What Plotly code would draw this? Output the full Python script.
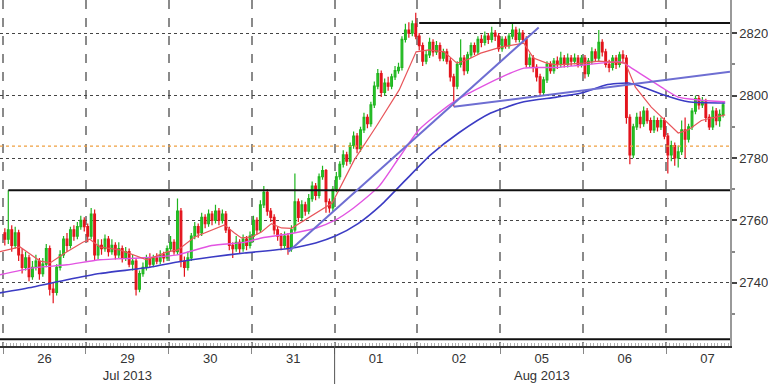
import plotly.graph_objects as go

# ---------------- data (hourly candles, 24 per trading day) ----------------
first_open = 2756.0
closes = [
    2754, 2757, 2752, 2756, 2749, 2745, 2748, 2742, 2745, 2747, 2743, 2746,
    2751, 2738, 2737, 2745, 2749, 2754, 2752, 2757, 2755, 2758, 2760, 2758,
    2755, 2762, 2749, 2752, 2751, 2754, 2750, 2752, 2749, 2751, 2748, 2750,
    2746, 2747, 2738, 2743, 2745, 2748, 2746, 2748, 2747, 2749, 2748, 2751,
    2753, 2750, 2763, 2747, 2745, 2748, 2755, 2758, 2756, 2761, 2759, 2762,
    2760, 2763, 2760, 2762, 2757, 2752, 2751, 2753, 2751, 2754, 2752, 2755,
    2760, 2757, 2765, 2769, 2763, 2761, 2757, 2755, 2752, 2755, 2751, 2757,
    2766, 2761, 2765, 2763, 2767, 2771, 2768, 2774, 2776, 2766, 2764, 2770,
    2774, 2778, 2781, 2779, 2784, 2787, 2783, 2789, 2793, 2791, 2797, 2803,
    2807, 2801, 2804, 2803, 2806, 2808, 2809, 2818, 2821, 2820, 2823, 2819,
    2816, 2811, 2813, 2817, 2814, 2816, 2812, 2814, 2811, 2806, 2803, 2810,
    2812, 2808, 2813, 2816, 2814, 2818, 2817, 2819, 2818, 2820, 2819, 2815,
    2818, 2816, 2819, 2821, 2818, 2820, 2818, 2810, 2812, 2809, 2806, 2801,
    2805, 2810, 2808, 2811, 2810, 2812, 2810, 2812, 2811, 2812, 2810, 2812,
    2807, 2811, 2814, 2812, 2817, 2814, 2810, 2809, 2812, 2810, 2813, 2812,
    2793, 2781, 2790, 2793, 2791, 2795, 2792, 2789, 2792, 2790, 2792, 2787,
    2781, 2784, 2780, 2782, 2789, 2786, 2790, 2795, 2799, 2797, 2798, 2793,
    2790, 2795, 2792, 2794, 2797,
]
highs = [
    2757.5, 2769.7, 2758.5, 2758, 2757, 2751, 2750, 2749, 2747, 2749, 2748, 2748,
    2752.5, 2752, 2740, 2746, 2750.5, 2755, 2756, 2758, 2758.5, 2759.5, 2761.5, 2761,
    2759, 2764, 2763.5, 2754, 2754, 2755.5, 2755, 2754, 2753, 2753, 2752, 2751.5,
    2751, 2749, 2748, 2744, 2746.5, 2749, 2749.5, 2749, 2749.5, 2750.5, 2750, 2752,
    2755, 2754, 2767, 2764, 2748.5, 2750, 2756, 2759.5, 2759, 2762.5, 2762, 2763.5,
    2763, 2765, 2764, 2763.5, 2763, 2758, 2753, 2755, 2754, 2755.5, 2755, 2756.5,
    2761.5, 2761, 2766.5, 2771, 2770, 2764, 2762, 2758, 2756, 2756.5, 2756, 2758.5,
    2775, 2767, 2766.5, 2766, 2768.5, 2772.5, 2772, 2775, 2777.5, 2776.5, 2767, 2771,
    2775.5, 2779, 2782.5, 2782, 2785, 2788.5, 2788, 2790, 2794.5, 2794, 2798, 2804.5,
    2808.5, 2808, 2805.5, 2806, 2807, 2809.5, 2810.5, 2819, 2823, 2823.5, 2824, 2826.5,
    2820, 2817, 2814.5, 2818.5, 2818, 2817.5, 2817, 2815, 2815, 2812, 2807, 2811,
    2818, 2813, 2814, 2817, 2817, 2819, 2819.5, 2820.5, 2820, 2822, 2821, 2820,
    2819, 2819, 2820, 2823, 2822, 2821.5, 2821, 2819, 2813.5, 2813, 2810, 2807,
    2806, 2811, 2811, 2812, 2812.5, 2814, 2813, 2813.5, 2813, 2813.5, 2813, 2813,
    2813, 2812, 2815.5, 2815, 2821, 2818, 2815, 2811.5, 2813, 2813, 2814, 2814.5,
    2813, 2794, 2791, 2794.5, 2795, 2796.5, 2796, 2793, 2793.5, 2793, 2793, 2793,
    2788, 2785.5, 2785, 2784, 2792, 2793, 2791, 2796, 2800, 2800, 2799.5, 2799,
    2794, 2796.5, 2796, 2795.5, 2798,
]
lows = [
    2752, 2752.5, 2750, 2751, 2747, 2743, 2744, 2740.5, 2741, 2744, 2741, 2742,
    2745, 2736, 2733.5, 2736, 2744, 2748, 2750, 2751, 2753.5, 2754, 2757, 2756.5,
    2753, 2754, 2747, 2747.5, 2749, 2750, 2748.5, 2749, 2747.5, 2748, 2746.5, 2747,
    2745, 2744, 2736, 2737, 2742, 2744, 2745, 2745, 2746, 2746, 2746.5, 2747,
    2750, 2749, 2749, 2745, 2742, 2744, 2747, 2754, 2754.5, 2755, 2757.5, 2758,
    2758.5, 2759, 2758.5, 2759, 2756, 2750.5, 2748, 2750, 2749.5, 2750, 2750.5, 2751,
    2753, 2755.5, 2756, 2764, 2761.5, 2759.5, 2755.5, 2753.5, 2750.5, 2751, 2749, 2750,
    2756, 2759.5, 2760, 2761.5, 2762, 2766, 2766.5, 2767, 2773, 2762.5, 2762.5, 2763,
    2769, 2773, 2777, 2777.5, 2778, 2783, 2781.5, 2782, 2788, 2789.5, 2790, 2796,
    2802, 2799.5, 2800, 2801.5, 2802, 2805, 2807, 2808, 2817, 2818.5, 2819, 2818,
    2814.5, 2809.5, 2810, 2812, 2812.5, 2813, 2811, 2811, 2810, 2804.5, 2796.5, 2802,
    2809, 2806.5, 2807, 2812, 2813, 2813, 2815.5, 2816, 2816.5, 2817, 2817.5, 2814,
    2814, 2815, 2815, 2818, 2817, 2817, 2817, 2809, 2809, 2807.5, 2804.5, 2800,
    2800, 2804, 2807, 2807, 2808.5, 2809, 2809, 2809, 2809.5, 2810, 2809, 2809,
    2805.5, 2806, 2810, 2811, 2811, 2812.5, 2809, 2807.5, 2808, 2808.5, 2809, 2810.5,
    2791, 2778, 2780, 2789, 2789.5, 2790, 2791, 2788, 2788, 2788.5, 2789, 2786,
    2775, 2779, 2777.5, 2777, 2781, 2780, 2785, 2789, 2794, 2795.5, 2796, 2791.5,
    2789, 2789, 2790.5, 2790, 2793,
]
opens = [first_open] + closes[:-1]
hours = list(range(len(closes)))

# day labels (24 hourly bars per day)
day_labels = ["26", "29<br>Jul 2013", "30", "31", "01", "02", "05<br>Aug 2013", "06", "07"]
bars_per_day = 24
month_break_day = 4  # first day of August in day_labels

# price axis labels
price_ticks = [2740, 2760, 2780, 2800, 2820]
price_minor_ticks = [2730, 2750, 2770, 2790, 2810]

# moving averages (x in bar index units)
ma_fast_x = [-1.4, 4.4, 10.2, 13.1, 18, 22.6, 24.6, 27.5, 33.3, 37, 41.1, 47.2, 50, 55, 59.9,
             63.6, 66.5, 68.5, 71.4, 74.3, 77.2, 80.1, 83, 88.2, 94.8, 101.2, 107.5, 114.2,
             118, 119.1, 122.8, 127.2, 130.9, 133.8, 137.8, 143.6, 150.3, 153.1, 156.9,
             159.8, 167.6, 172, 179.7, 182.6, 187.2, 191.3, 195, 197.9, 201.7, 204.6, 208.6]
ma_fast_y = [2750, 2751.5, 2747, 2746.4, 2750, 2753, 2754, 2751.5, 2750.6, 2749, 2747.4, 2750,
             2750.5, 2754.7, 2757, 2758.6, 2756, 2754.4, 2754.7, 2756.3, 2759, 2757.6, 2757.5,
             2761, 2765.6, 2779.4, 2790, 2801.8, 2811, 2814, 2814.6, 2814, 2810.4, 2811.4,
             2813.6, 2815.5, 2816.8, 2812, 2810.4, 2809.8, 2810.4, 2811, 2810.4, 2802.7,
             2796.3, 2792, 2788, 2789, 2792, 2792.8, 2793.8]
ma_mid_x = [-1.4, 8.2, 18, 27.5, 39.1, 50, 59.9, 69.4, 74.3, 83.8, 90, 95.5, 101, 108.4, 114.1,
            119.9, 130, 143, 150.3, 159.8, 167.6, 178.6, 181.5, 190.1, 195, 200.8, 208.6]
ma_mid_y = [2742.6, 2744.8, 2745.8, 2747.4, 2748, 2749, 2752, 2753, 2754.4, 2756, 2757.5, 2760,
            2764, 2771, 2780, 2789, 2798, 2805.5, 2808.8, 2809, 2809.8, 2810.7, 2808.8, 2802.7,
            2799.5, 2798.6, 2798]
ma_slow_x = [-1.4, 8.2, 18, 27.5, 42, 50, 59.9, 69.4, 82.1, 90, 95.7, 102.3, 109, 116.1, 123.3,
             131.4, 140.7, 150.3, 159.8, 167.6, 174, 180.6, 185.5, 191.3, 197.9, 208.6]
ma_slow_y = [2736.8, 2738.7, 2741, 2743, 2745, 2746.7, 2748.3, 2749.6, 2751, 2752.8, 2755,
             2759, 2765, 2773, 2781, 2788, 2794.4, 2798, 2799.5, 2801, 2803.4, 2804, 2802.4,
             2800, 2798, 2797.6]

# drawn trend lines and levels
trend_a_x = [82.1, 154.6]
trend_a_y = [2750.0, 2821.8]
trend_b_x = [130.0, 210.0]
trend_b_y = [2796.4, 2807.6]
level_top = 2823.2
level_top_start = 120
level_mid = 2769.7
level_mid_start = 1
level_low = 2722.0
level_orange = 2783.8

x_range = [-1.4, 210.0]
y_range = [2719.8, 2830.6]

# ---------------- figure ----------------
day_starts = [k * bars_per_day - 0.5 for k in range(len(day_labels))]
day_centers = [k * bars_per_day + (bars_per_day - 1) / 2 for k in range(len(day_labels))]
month_break = day_starts[month_break_day]

fig = go.Figure()

fig.add_trace(go.Candlestick(
    x=hours, open=opens, high=highs, low=lows, close=closes,
    increasing=dict(line=dict(color="#1fb51f", width=1.2), fillcolor="#2fcc2f"),
    decreasing=dict(line=dict(color="#e3141c", width=1.2), fillcolor="#e3141c"),
    whiskerwidth=0, hoverinfo="skip",
))

fig.add_trace(go.Scatter(x=ma_slow_x, y=ma_slow_y, mode="lines", line_shape="spline",
                         line=dict(color="#3b3bc4", width=1.6, smoothing=0.6), hoverinfo="skip"))
fig.add_trace(go.Scatter(x=ma_mid_x, y=ma_mid_y, mode="lines", line_shape="spline",
                         line=dict(color="#e254e2", width=1.4, smoothing=0.6), hoverinfo="skip"))
fig.add_trace(go.Scatter(x=ma_fast_x, y=ma_fast_y, mode="lines",
                         line=dict(color="#e8555a", width=1.2), hoverinfo="skip"))

# horizontal levels
fig.add_trace(go.Scatter(x=x_range, y=[level_orange, level_orange], mode="lines",
                         line=dict(color="#f0a040", width=1.2, dash="dot"), hoverinfo="skip"))
fig.add_trace(go.Scatter(x=[level_top_start, x_range[1]], y=[level_top, level_top], mode="lines",
                         line=dict(color="#111111", width=2), hoverinfo="skip"))
fig.add_trace(go.Scatter(x=[level_mid_start, x_range[1]], y=[level_mid, level_mid], mode="lines",
                         line=dict(color="#111111", width=2), hoverinfo="skip"))
fig.add_trace(go.Scatter(x=x_range, y=[level_low, level_low], mode="lines",
                         line=dict(color="#111111", width=2), hoverinfo="skip"))

# trend lines
fig.add_trace(go.Scatter(x=trend_a_x, y=trend_a_y, mode="lines",
                         line=dict(color="#6e6ed2", width=2), hoverinfo="skip"))
fig.add_trace(go.Scatter(x=trend_b_x, y=trend_b_y, mode="lines",
                         line=dict(color="#6e6ed2", width=2), hoverinfo="skip"))

# hourly hatch axis (overlay)
fig.add_trace(go.Scatter(x=[x_range[0]], y=[y_range[0]], xaxis="x2", mode="markers",
                         marker=dict(opacity=0), hoverinfo="skip"))

fig.add_shape(type="line", xref="x", yref="paper", x0=month_break, x1=month_break,
              y0=0, y1=-0.115, line=dict(color="#555555", width=1))

fig.update_layout(
    width=768, height=384,
    margin=dict(l=0, r=36, t=0, b=38),
    paper_bgcolor="white", plot_bgcolor="white",
    showlegend=False,
    font=dict(family="Liberation Sans", size=13, color="#333333"),
    xaxis=dict(
        range=x_range, tickmode="array", tickvals=day_centers, ticktext=day_labels,
        ticks="", showgrid=False, zeroline=False,
        showline=True, linecolor="#333333", linewidth=1.5,
        rangeslider=dict(visible=False),
        tickfont=dict(size=13, color="#333333"),
        minor=dict(tickmode="array", tickvals=day_starts, showgrid=True, griddash="dash",
                   gridcolor="#8a8a8a", gridwidth=1.5, ticks="outside", ticklen=6,
                   tickcolor="#888888"),
    ),
    xaxis2=dict(
        overlaying="x", anchor="y", side="bottom", range=x_range,
        tick0=-0.5, dtick=1, ticks="inside", ticklen=3, tickcolor="#b0b0b0",
        showticklabels=False, showgrid=False, zeroline=False, showline=False,
    ),
    yaxis=dict(
        side="right", range=y_range, tickmode="array", tickvals=price_ticks,
        showgrid=True, griddash="dot", gridcolor="#444444", gridwidth=1,
        ticks="outside", ticklen=5, tickwidth=2, tickcolor="#444444",
        showline=True, linecolor="#999999", linewidth=1.5, zeroline=False,
        tickfont=dict(size=13, color="#333333"),
        minor=dict(tickmode="array", tickvals=price_minor_ticks, ticks="outside",
                   ticklen=3, tickcolor="#888888", showgrid=False),
    ),
)

fig.write_html(
    "out.html",
    config={"displayModeBar": False},
    post_script="document.body.style.margin='0';document.body.style.overflow='hidden';",
)
